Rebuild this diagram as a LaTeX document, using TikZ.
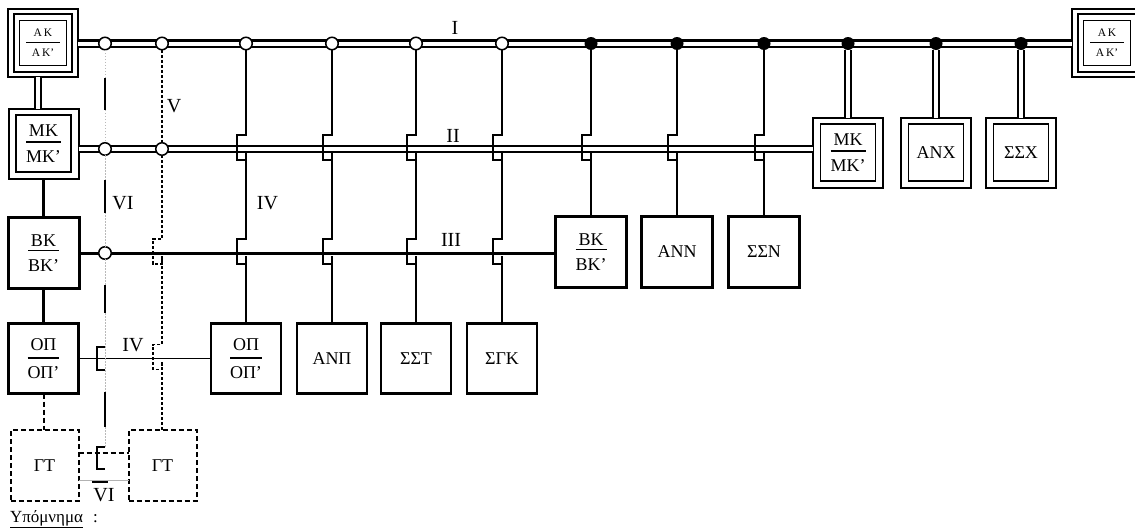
\documentclass[tikz,border=0pt]{standalone}
\usepackage{fontspec}
\setmainfont{Liberation Serif}
\usetikzlibrary{calc}
\newcommand{\frc}[4]{{\renewcommand{\arraystretch}{0}\setlength{\arrayrulewidth}{1.3pt}\begin{tabular}{@{}c@{}}\rule[-#3]{0pt}{#3}#1\\\hline\rule{0pt}{#4}#2\end{tabular}}}
\newcommand{\hopover}[2]{-- (#1,#2-14) -- (#1-9,#2-14) -- (#1-9,#2+11) -- (#1,#2+11) -- (#1,#2+3)}
\begin{document}
\begin{tikzpicture}[x=1pt,y=-1pt,
 every node/.style={inner sep=0pt, outer sep=0pt},
 bxfont/.style={font=\fontsize{18}{20}\selectfont},
 lblfont/.style={font=\fontsize{20}{24}\selectfont},
 plainbox/.style={draw, bxfont, line width=2.3pt, minimum width=70pt, minimum height=70pt},
 heavybox/.style={draw, bxfont, line width=3pt, minimum width=71pt, minimum height=71pt},
 dblout/.style={draw, line width=2pt, minimum width=70pt, minimum height=70pt},
 dblin/.style={draw, bxfont, line width=1.8pt, minimum width=55pt, minimum height=57pt},
 akout/.style={draw, line width=2pt, minimum width=70pt, minimum height=68pt},
 akmid/.style={draw, line width=1.2pt, minimum width=58pt, minimum height=58pt},
 akin/.style={draw, line width=1.8pt, minimum width=47pt, minimum height=45pt, font=\fontsize{11.5}{13}\selectfont},
 gtbox/.style={draw, bxfont, line width=2pt, dash pattern=on 5pt off 3pt, minimum width=68pt, minimum height=71pt},
 jopen/.style={circle, draw, fill=white, line width=1.5pt, minimum size=12.5pt},
 jfull/.style={circle, fill=black, minimum size=13pt},
 busone/.style={draw, line width=2.2pt, double=white, double distance=4pt},
 bustwo/.style={draw, line width=1.8pt, double=white, double distance=3.6pt},
 busthree/.style={draw, line width=3pt},
 thinln/.style={draw, line width=1.8pt},
 thickln/.style={draw, line width=2.8pt},
 medln/.style={draw, line width=2.2pt},
 vline/.style={draw, line width=1.4pt, dash pattern=on 3pt off 2pt},
 gtdash/.style={draw, line width=2pt, dash pattern=on 5pt off 3pt},
 gtfaint/.style={draw, gray!60, line width=0.8pt},
 vifaint/.style={draw, gray!55, line width=0.8pt, dash pattern=on 1.5pt off 1.5pt},
 viblack/.style={draw, line width=2pt},
]
\useasboundingbox (0,0) rectangle (1135,530);
\clip (0,0) rectangle (1135,530);
\coordinate (yI) at (0,43.5);
\coordinate (yII) at (0,149);
\coordinate (yIII) at (0,253);

% ---------- boxes ----------
\node[akout] (AKL) at (43,43) {};
\node[akmid] (AKLm) at (AKL) {};
\node[akin] (AKLi) at (AKL) {\frc{\makebox[34pt]{Α\,Κ}}{Α\,Κ’}{5pt}{14pt}};
\node[akout] (AKR) at (1107,43) {};
\node[akmid] (AKRm) at (AKR) {};
\node[akin] (AKRi) at (AKR) {\frc{\makebox[34pt]{Α\,Κ}}{Α\,Κ’}{5pt}{14pt}};

\node[dblout] (MKL) at (43.5,143.5) {};
\node[dblin] (MKLi) at (MKL) {\frc{ΜΚ}{ΜΚ’}{5pt}{20pt}};
\node[heavybox] (BKL) at (43.5,253) {\frc{ΒΚ}{ΒΚ’}{3pt}{20pt}};
\node[plainbox] (OPL) at (43.5,358.5) {\frc{ΟΠ}{ΟΠ’}{7pt}{20pt}};
\node[gtbox] (GTL) at (44.5,465.5) {ΓΤ};
\node[gtbox] (GTR) at (162.5,465.5) {ΓΤ};

\node[plainbox] (OPR) at (246,358.5) {\frc{ΟΠ}{ΟΠ’}{7pt}{20pt}};
\node[plainbox] (ANP) at (332,358.5) {ΑΝΠ};
\node[plainbox] (SST) at (416,358.5) {ΣΣΤ};
\node[plainbox] (SGK) at (502,358.5) {ΣΓΚ};

\node[heavybox] (BKR) at (591,252) {\frc{ΒΚ}{ΒΚ’}{3pt}{20pt}};
\node[heavybox] (ANN) at (677,252) {ΑΝΝ};
\node[heavybox] (SSN) at (764,252) {ΣΣΝ};

\node[dblout] (MKR) at (848,152.5) {};
\node[dblin] (MKRi) at (MKR) {\frc{ΜΚ}{ΜΚ’}{5pt}{20pt}};
\node[dblout] (ANX) at (936,152.5) {};
\node[dblin] (ANXi) at (ANX) {ΑΝΧ};
\node[dblout] (SSX) at (1021,152.5) {};
\node[dblin] (SSXi) at (SSX) {ΣΣΧ};

% ---------- buses ----------
\draw[busone] (AKL.east |- yI) -- (AKR.west |- yI);
\draw[bustwo] (MKL.east |- yII) -- (MKR.west |- yII);
\draw[busthree] (BKL.east |- yIII) -- (BKR.west |- yIII);
\draw[thinln] (OPL.east) -- (OPR.west);

% left column links
\draw[bustwo] ([xshift=-5pt]AKL.south) -- ([xshift=-5pt]AKL.south |- MKL.north);
\draw[medln] (MKL.south) -- (BKL.north);
\draw[medln] (BKL.south) -- (OPL.north);
\draw[gtdash] (OPL.south) -- (OPL.south |- GTL.north);
\draw[gtdash] ([yshift=12.5pt]GTL.east) -- ([yshift=12.5pt]GTR.west);
\draw[gtfaint] ([yshift=-14.5pt]GTL.east) -- ([yshift=-14.5pt]GTR.west);

% ---------- junctions ----------
\foreach \n/\x in {1/105,2/162,3/246,4/332,5/416,6/502}
  \node[jopen] (jI\n) at (\x,43.5) {};
\foreach \n/\x in {7/591,8/677,9/764,10/848,11/936,12/1021}
  \node[jfull] (jI\n) at (\x,43.5) {};
\node[jopen] (jII1) at (105,149) {};
\node[jopen] (jII2) at (162,149) {};
\node[jopen] (jIII1) at (105,253) {};

% ---------- branch lines ----------
\draw[thinln] (jI3.south) \hopover{246}{149} \hopover{246}{253} -- (jI3 |- OPR.north);
\draw[thinln] (jI4.south) \hopover{332}{149} \hopover{332}{253} -- (jI4 |- ANP.north);
\draw[thinln] (jI5.south) \hopover{416}{149} \hopover{416}{253} -- (jI5 |- SST.north);
\draw[thinln] (jI6.south) \hopover{502}{149} \hopover{502}{253} -- (jI6 |- SGK.north);
\draw[thickln] (jI7.south) \hopover{591}{149} -- (jI7 |- BKR.north);
\draw[thickln] (jI8.south) \hopover{677}{149} -- (jI8 |- ANN.north);
\draw[thickln] (jI9.south) \hopover{764}{149} -- (jI9 |- SSN.north);
\draw[bustwo] (jI10.south) -- (jI10 |- MKR.north);
\draw[bustwo] (jI11.south) -- (jI11 |- ANX.north);
\draw[bustwo] (jI12.south) -- (jI12 |- SSX.north);

% line V
\draw[vline] (jI2.south) -- (jII2.north);
\draw[vline] (jII2.south) \hopover{162}{253} \hopover{162}{358.5} -- (jII2 |- GTR.north);

% line VI
\draw[vifaint] (jI1.south) -- (jII1.north);
\draw[vifaint] (jII1.south) -- (jIII1.north);
\draw[vifaint] (jIII1.south) -- (105,447);
\draw[viblack] (105,78) -- (105,110);
\draw[viblack] (105,180) -- (105,213);
\draw[viblack] (105,285) -- (105,313);
\draw[viblack] (105,392) -- (105,427);
\draw[viblack] (105,347) -- (97,347) -- (97,370) -- (105,370);
\draw[viblack] (105,447) -- (97,447) -- (97,469) -- (105,469);

% ---------- labels ----------
\node[lblfont] (lI) at (455,27.5) {I};
\node[lblfont] (lII) at (453,135.5) {II};
\node[lblfont] (lIII) at (451,240) {III};
\node[lblfont] (lIVa) at (267.5,203) {IV};
\node[lblfont] (lIVb) at (133,345) {IV};
\node[lblfont] (lV) at (174,106) {V};
\node[lblfont] (lVIa) at (123,203.5) {VI};
\node[lblfont] (lVIb) at (104,495) {VI};
\draw[line width=2.6pt] ([shift={(-1.5pt,6.4pt)}]lVIb.north west) -- ([shift={(-6.5pt,6.4pt)}]lVIb.north east);
\node[anchor=base west, font=\fontsize{17}{20}\selectfont] (legend) at (10,522) {\underline{Υπόμνημα}\hspace{10pt}:};
\end{tikzpicture}
\end{document}
